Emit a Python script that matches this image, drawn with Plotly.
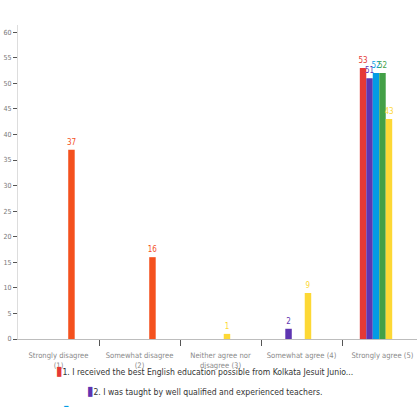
import plotly.graph_objects as go

categories = ["Strongly disagree<br>(1)", "Somewhat disagree<br>(2)", "Neither agree nor<br>disagree (3)",
              "Somewhat agree (4)", "Strongly agree (5)"]

series_names = [
    "1. I received the best English education possible from Kolkata Jesuit Junio...",
    "2. I was taught by well qualified and experienced teachers.",
    "3. I was given ample opportunities to speak and write English in school.",
    "4. The school library helped me develop a love for reading.",
    "5. I would recommend the school to other parents.",
    "6. I found the English curriculum too difficult to follow.",
    "7. Other",
]
s1 = [0, 0, 0, 0, 53]
s2 = [0, 0, 0, 2, 51]
s3 = [0, 0, 0, 0, 52]
s4 = [0, 0, 0, 0, 52]
s5 = [0, 0, 1, 9, 43]
s6 = [37, 16, 0, 0, 0]
s7 = [0, 0, 0, 0, 0]
series_values = [s1, s2, s3, s4, s5, s6, s7]
colors = ["#e53935", "#5e35b1", "#039be5", "#43a047", "#fdd835", "#f4511e", "#00acc1"]
boundary_ticks = [0.5, 1.5, 2.5, 3.5]

FONT = "Liberation Sans Narrow, DejaVu Sans Condensed, Roboto, sans-serif"
X_RANGE = [-0.5, 4.426]

fig = go.Figure()
for name, vals, col in zip(series_names, series_values, colors):
    fig.add_trace(go.Bar(
        x=categories, y=vals, name=name,
        marker=dict(color=col, line=dict(width=0)),
        text=[str(v) if v else "" for v in vals],
        textposition="outside", cliponaxis=False, constraintext="none",
        textfont=dict(family=FONT, size=8, color=col),
        showlegend=False,
    ))

# invisible helper trace so the boundary-tick axis is drawn
fig.add_trace(go.Scatter(
    x=boundary_ticks, y=[0] * len(boundary_ticks), xaxis="x2", yaxis="y",
    mode="markers", marker=dict(opacity=0, size=1), showlegend=False, hoverinfo="skip",
))

# legend drawn as centered lines (first three visible)
leg_y = [-0.1009, -0.1645, -0.2250]
for i, yy in enumerate(leg_y):
    fig.add_annotation(
        xref="paper", yref="paper", x=0.468, y=yy, xanchor="center", yanchor="middle",
        showarrow=False,
        text=f"<span style='color:{colors[i]};font-size:13px'>▮</span>{series_names[i]}",
        font=dict(family=FONT, size=8.6, color="#333333"),
    )

fig.update_layout(
    width=417, height=407,
    margin=dict(l=18, r=0, t=25, b=68),
    paper_bgcolor="white", plot_bgcolor="white",
    barmode="group", bargap=0.44, bargroupgap=0,
    font=dict(family=FONT),
    xaxis2=dict(
        overlaying="x", anchor="y", side="bottom", range=X_RANGE,
        tickvals=boundary_ticks, showticklabels=False, showgrid=False, zeroline=False,
        ticks="outside", ticklen=6, tickcolor="#555555", showline=False,
    ),
)
fig.layout.xaxis.update(
    range=X_RANGE, showgrid=False, showline=True, linecolor="#bdbdbd", linewidth=1,
    ticks="", ticklabelstandoff=9,
    tickfont=dict(family=FONT, size=7.6, color="#8a8a8a"), tickangle=0,
)
fig.update_yaxes(
    range=[0, 61.4], dtick=5, tick0=0, showgrid=False, zeroline=False,
    showline=True, linecolor="#dddddd", linewidth=1,
    ticks="outside", ticklen=4, tickcolor="#555555",
    tickfont=dict(family=FONT, size=7, color="#777777"),
)

fig.write_html("out.html")
